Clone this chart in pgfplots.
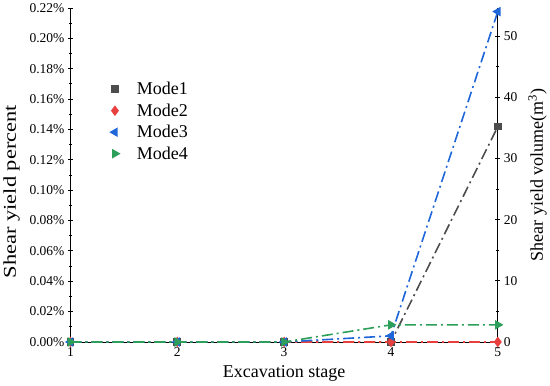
\documentclass[border=0pt]{standalone}
\usepackage{pgfplots}
\pgfplotsset{compat=1.18}
\usepackage{fontspec}
\setmainfont{Liberation Serif}
\definecolor{cA}{HTML}{4D4D4D}
\definecolor{cB}{HTML}{E8403F}
\definecolor{cC}{HTML}{1F66D9}
\definecolor{cD}{HTML}{2CA05A}
\begin{document}
\begin{tikzpicture}
\pgfplotsset{
  common/.style={
    scale only axis, width=426bp, height=333bp,
    xmin=1, xmax=5, xtick={1,2,3,4,5},
    tick style={black, line width=0.8pt},
    major tick length=5pt, minor tick length=3pt,
    tick align=inside,
    /pgf/number format/assume math mode=true,
    tick label style={font=\fontsize{13.5}{15}\selectfont},
    clip=false,
  }
}
\begin{axis}[common,
  axis x line=bottom, axis y line=left,
  axis line style={-, black, line width=0.9pt},
  ymin=0, ymax=0.22,
  ytick={0,0.02,0.04,0.06,0.08,0.10,0.12,0.14,0.16,0.18,0.20,0.22},
  yticklabels={0.00\%,0.02\%,0.04\%,0.06\%,0.08\%,0.10\%,0.12\%,0.14\%,0.16\%,0.18\%,0.20\%,0.22\%},
  minor y tick num=1,
  xlabel={Excavation stage},
  ylabel={Shear yield percent},
  xlabel style={font=\fontsize{18}{20}\selectfont, yshift=-2pt},
  ylabel style={font=\fontsize{18}{20}\selectfont, at={(ticklabel cs:0.45)}, xscale=1.25, yshift=3pt},
]
\end{axis}
\begin{axis}[common,
  axis x line=none, axis y line=right,
  axis line style={-, black, line width=0.9pt},
  ymin=0, ymax=54.6,
  ytick={0,10,20,30,40,50},
  minor y tick num=1,
  ylabel={Shear yield volume(m\textsuperscript{3})},
  ylabel style={font=\fontsize{18}{20}\selectfont, yshift=-4pt},
  legend style={draw=none, fill=none, at={(0.08,0.79)}, anchor=north west,
    font=\fontsize{18}{20}\selectfont, row sep=3.5pt},
  legend cell align=left,
  legend image code/.code={\path[draw=none] (0cm,0cm) -- (0.95cm,0cm); \draw plot[only marks] coordinates {(0.25cm,0cm)};},
]
\addplot[cA, line width=1.6pt, dash pattern=on 11pt off 4pt on 2pt off 4pt, mark=square*, mark size=3pt, mark options={solid}]
  coordinates {(1,0) (2,0) (3,0) (4,0) (5,35.2)};
\addlegendentry{Mode1}
\addplot[cB, line width=1.6pt, dash pattern=on 11pt off 4pt on 2pt off 4pt, mark=diamond*, mark size=4pt, mark options={solid}]
  coordinates {(1,0) (2,0) (3,0) (4,0) (5,0)};
\addlegendentry{Mode2}
\addplot[cC, line width=1.6pt, dash pattern=on 11pt off 4pt on 2pt off 4pt, mark=triangle*, mark size=4pt, mark options={solid, rotate=90}]
  coordinates {(1,0) (2,0) (3,0) (4,1.0) (5,54)};
\addlegendentry{Mode3}
\addplot[cD, line width=1.6pt, dash pattern=on 11pt off 4pt on 2pt off 4pt, mark=triangle*, mark size=4pt, mark options={solid, rotate=-90}]
  coordinates {(1,0) (2,0) (3,0) (4,2.8) (5,2.8)};
\addlegendentry{Mode4}
\end{axis}
\end{tikzpicture}
\end{document}
